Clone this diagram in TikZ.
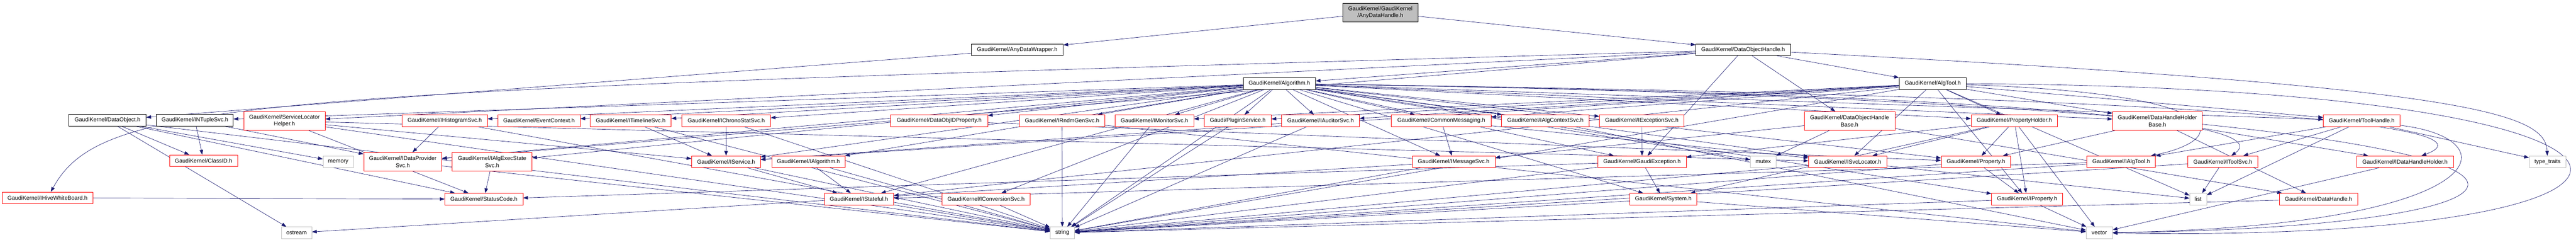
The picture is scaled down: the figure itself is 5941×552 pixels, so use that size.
\documentclass[tikz,border=0pt]{standalone}
\usepackage{fontspec}
\setmainfont{Liberation Sans}
\usetikzlibrary{arrows.meta,backgrounds}
\definecolor{edgeblue}{HTML}{191970}
\definecolor{sysgray}{HTML}{BFBFBF}
\begin{document}
\begin{tikzpicture}[x=1pt,y=-1pt,
		file/.style={draw,fill=white,rectangle,inner sep=0pt,minimum height=27pt,align=center,
			font=\fontsize{13}{16}\selectfont,line width=0.9pt},
		two/.style={minimum height=43pt},
		trunc/.style={file,draw=red},
		sysfile/.style={file,draw=sysgray},
		inc/.style={edgeblue,line width=0.8pt,-{Triangle[length=11pt,width=8pt]}}]
	\useasboundingbox (0,0) rectangle (5941,552);
	% top of the graph
	\node [file,two,fill=sysgray,minimum width=173pt] (root) at (3183.5,28.5) {GaudiKernel/GaudiKernel\\/AnyDataHandle.h};
	\node [file,minimum width=212pt] (aw) at (2346,114.5) {GaudiKernel/AnyDataWrapper.h};
	\node [file,minimum width=218pt] (doh) at (4020,114.5) {GaudiKernel/DataObjectHandle.h};
	\node [file,minimum width=167pt] (alg) at (2950.5,192.5) {GaudiKernel/Algorithm.h};
	\node [file,minimum width=155pt] (atool) at (4457.5,192.5) {GaudiKernel/AlgTool.h};
	% third row
	\node [file,minimum width=178pt] (dobj) at (248,277) {GaudiKernel/DataObject.h};
	\node [file,minimum width=177pt] (intup) at (449.5,277) {GaudiKernel/INTupleSvc.h};
	\node [trunc,two,minimum width=188pt] (slh) at (656,278.5) {GaudiKernel/ServiceLocator\\Helper.h};
	\node [trunc,minimum width=197pt] (ihist) at (1025.5,278) {GaudiKernel/IHistogramSvc.h};
	\node [trunc,minimum width=190pt] (evctx) at (1243,278) {GaudiKernel/EventContext.h};
	\node [trunc,minimum width=187pt] (itl) at (1454.5,278) {GaudiKernel/ITimelineSvc.h};
	\node [trunc,minimum width=204pt] (ichr) at (1675,278) {GaudiKernel/IChronoStatSvc.h};
	\node [trunc,minimum width=224pt] (doidp) at (2166,278) {GaudiKernel/DataObjIDProperty.h};
	\node [trunc,minimum width=197pt] (irndm) at (2449.5,278) {GaudiKernel/IRndmGenSvc.h};
	\node [trunc,minimum width=181pt] (imon) at (2662.5,278) {GaudiKernel/IMonitorSvc.h};
	\node [trunc,minimum width=155pt] (plug) at (2854.5,278) {Gaudi/PluginService.h};
	\node [trunc,minimum width=179pt] (iaud) at (3045.5,278) {GaudiKernel/IAuditorSvc.h};
	\node [trunc,minimum width=230pt] (cmsg) at (3324,278) {GaudiKernel/CommonMessaging.h};
	\node [trunc,minimum width=202pt] (iactx) at (3564,278) {GaudiKernel/IAlgContextSvc.h};
	\node [trunc,minimum width=195pt] (iexc) at (3786.5,278) {GaudiKernel/IExceptionSvc.h};
	\node [trunc,two,minimum width=209pt] (dohb) at (4265.5,278.5) {GaudiKernel/DataObjectHandle\\Base.h};
	\node [trunc,minimum width=199pt] (phold) at (4645.5,278) {GaudiKernel/PropertyHolder.h};
	\node [trunc,two,minimum width=207pt] (dhhb) at (4975.5,278.5) {GaudiKernel/DataHandleHolder\\Base.h};
	\node [trunc,minimum width=177pt] (thdl) at (5446.5,278) {GaudiKernel/ToolHandle.h};
	% fourth row
	\node [trunc,minimum width=157pt] (classid) at (469.5,370) {GaudiKernel/ClassID.h};
	\node [sysfile,minimum width=70pt] (memory) at (780,372.5) {memory};
	\node [trunc,two,minimum width=180pt] (idps) at (929,372.5) {GaudiKernel/IDataProvider\\Svc.h};
	\node [trunc,two,minimum width=184pt] (iaes) at (1135,372.5) {GaudiKernel/IAlgExecState\\Svc.h};
	\node [trunc,minimum width=159pt] (isvc) at (1674.5,372.5) {GaudiKernel/IService.h};
	\node [trunc,minimum width=169pt] (ialg) at (1864.5,372.5) {GaudiKernel/IAlgorithm.h};
	\node [trunc,minimum width=191pt] (imsg) at (3352.5,372.5) {GaudiKernel/IMessageSvc.h};
	\node [trunc,minimum width=204pt] (gexc) at (3787,372.5) {GaudiKernel/GaudiException.h};
	\node [sysfile,minimum width=59pt] (mutex) at (4066.5,372.5) {mutex};
	\node [trunc,minimum width=181pt] (isl) at (4261.5,372.5) {GaudiKernel/ISvcLocator.h};
	\node [trunc,minimum width=160pt] (prop) at (4557,372.5) {GaudiKernel/Property.h};
	\node [trunc,minimum width=158pt] (ialgt) at (4892,372.5) {GaudiKernel/IAlgTool.h};
	\node [trunc,minimum width=161pt] (itsvc) at (5126.5,372.5) {GaudiKernel/IToolSvc.h};
	\node [trunc,minimum width=223pt] (idhh) at (5546.5,372.5) {GaudiKernel/IDataHandleHolder.h};
	\node [sysfile,minimum width=85pt] (ttraits) at (5875.5,372.5) {type\_traits};
	% fifth and last rows
	\node [trunc,minimum width=209pt] (ihwb) at (109.5,455.5) {GaudiKernel/IHiveWhiteBoard.h};
	\node [trunc,minimum width=180pt] (sc) at (1116,458.5) {GaudiKernel/StatusCode.h};
	\node [trunc,minimum width=160pt] (istf) at (1981,458.5) {GaudiKernel/IStateful.h};
	\node [trunc,minimum width=204pt] (iconv) at (2274,458.5) {GaudiKernel/IConversionSvc.h};
	\node [trunc,minimum width=154pt] (sys) at (3836,458.5) {GaudiKernel/System.h};
	\node [trunc,minimum width=164pt] (iprop) at (4675,458.5) {GaudiKernel/IProperty.h};
	\node [sysfile,minimum width=39pt] (list) at (5069.5,458.5) {list};
	\node [trunc,minimum width=180pt] (dh) at (5347,458.5) {GaudiKernel/DataHandle.h};
	\node [sysfile,minimum width=70pt] (ostream) at (684,536) {ostream};
	\node [sysfile,minimum width=56pt] (string) at (2450,536) {string};
	\node [sysfile,minimum width=61pt] (vector) at (4841.5,536) {vector};
	\begin{scope}[on background layer]
		\draw[inc] (root) -- (aw);
		\draw[inc] (root) -- (doh);
		\draw[inc] (aw) -- (dobj);
		\foreach \t in {alg,atool,dohb,gexc,idps,slh}
			\draw[inc] (doh) -- (\t);
		\draw[inc] (doh) .. controls (600,212) and (240,220) .. (ihwb);
		\draw[inc] (doh) .. controls (5700,200) and (5870,260) .. (ttraits);
		\foreach \t in {ialg,isvc,istf,imsg,isl,phold,sys,thdl,plug,cmsg,doidp,evctx,iactx,iaes,iaud,ichr,iconv,idps,iexc,ihist,imon,intup,irndm,itl,prop,dhhb,iprop,gexc,mutex,string}
			\draw[inc] (alg) -- (\t);
		\draw[inc] (alg) .. controls (5200,225) and (5200,320) .. (itsvc);
		\draw[inc] (alg) .. controls (5680,230) and (5690,320) .. (idhh);
		\draw[inc] (alg) .. controls (6200,240) and (6150,520) .. (vector);
		\foreach \t in {cmsg,iaud,imon,iprop,isvc,istf,phold,thdl,plug,dhhb,isl,list,string}
			\draw[inc] (atool) -- (\t);
		\draw[inc] (atool) .. controls (5150,215) and (5150,320) .. (ialgt);
		\draw[inc] (atool) .. controls (6330,200) and (6330,560) .. (vector);
		\foreach \t in {dh,imsg,mutex}
			\draw[inc] (dohb) -- (\t);
		\foreach \t in {iprop,prop,gexc,isl,sys,vector}
			\draw[inc] (phold) -- (\t);
		\foreach \t in {idhh,dh,prop}
			\draw[inc] (dhhb) -- (\t);
		\foreach \t in {ialgt,itsvc,ttraits,list}
			\draw[inc] (thdl) -- (\t);
		\draw[inc] (thdl) .. controls (5800,320) and (5750,520) .. (vector);
		\foreach \t in {classid,sc,string,memory,ostream}
			\draw[inc] (dobj) -- (\t);
		\foreach \t in {classid,idps}
			\draw[inc] (intup) -- (\t);
		\foreach \t in {sc,isvc,isl,string}
			\draw[inc] (slh) -- (\t);
		\foreach \t in {idps,string}
			\draw[inc] (ihist) -- (\t);
		\foreach \t in {isvc,string}
			\draw[inc] (itl) -- (\t);
		\foreach \t in {isvc,string}
			\draw[inc] (ichr) -- (\t);
		\foreach \t in {isvc,string}
			\draw[inc] (iaud) -- (\t);
		\foreach \t in {string,vector}
			\draw[inc] (irndm) -- (\t);
		\foreach \t in {imsg,isl}
			\draw[inc] (cmsg) -- (\t);
		\foreach \t in {istf,string}
			\draw[inc] (ialg) -- (\t);
		\foreach \t in {istf,string}
			\draw[inc] (isvc) -- (\t);
		\foreach \t in {ostream,string}
			\draw[inc] (imsg) -- (\t);
		\foreach \t in {sys,sc,string}
			\draw[inc] (gexc) -- (\t);
		\foreach \t in {list,string}
			\draw[inc] (isl) -- (\t);
		\foreach \t in {iprop,string}
			\draw[inc] (prop) -- (\t);
		\foreach \t in {istf,string}
			\draw[inc] (ialgt) -- (\t);
		\foreach \t in {list,string}
			\draw[inc] (itsvc) -- (\t);
		\foreach \t in {vector,string}
			\draw[inc] (iprop) -- (\t);
		\foreach \t in {string,vector}
			\draw[inc] (sys) -- (\t);
		\draw[inc] (plug) -- (string);
		\draw[inc] (imon) -- (string);
		\draw[inc] (doidp) -- (prop);
		\draw[inc] (iactx) -- (vector);
		\draw[inc] (iexc) -- (gexc);
		\draw[inc] (iaes) -- (sc);
		\draw[inc] (idps) -- (string);
		\draw[inc] (istf) -- (string);
		\draw[inc] (iconv) -- (string);
		\draw[inc] (ihwb) -- (sc);
		\draw[inc] (idhh) -- (vector);
		\draw[inc] (dh) -- (string);
	\end{scope}
\end{tikzpicture}
\end{document}
